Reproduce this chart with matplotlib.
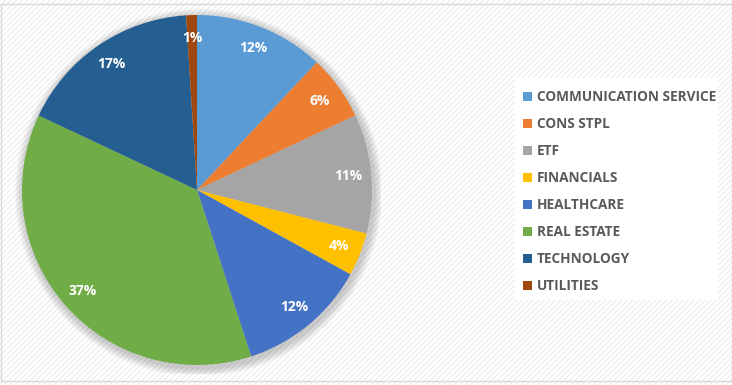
import matplotlib.pyplot as plt
from matplotlib.patches import Patch, Rectangle, Circle

sectors = ["COMMUNICATION SERVICE", "CONS STPL", "ETF", "FINANCIALS",
           "HEALTHCARE", "REAL ESTATE", "TECHNOLOGY", "UTILITIES"]
shares = [12, 6, 11, 4, 12, 37, 17, 1]
colors = ["#5B9BD5", "#ED7D31", "#A5A5A5", "#FFC000",
          "#4472C4", "#70AD47", "#255E91", "#9E480E"]

plt.rcParams["font.family"] = ["Open Sans", "DejaVu Sans"]

W, H = 732, 385
fig = plt.figure(figsize=(W / 100, H / 100), dpi=100)
fig.patch.set_facecolor("white")

# faint hatched background like the Excel chart area
bg = fig.add_axes([0, 0, 1, 1])
bg.set_xlim(0, W)
bg.set_ylim(0, H)
bg.axis("off")
bg.add_patch(Rectangle((0, 0), W, H, facecolor="white", edgecolor="#efefef",
                       hatch="//////", linewidth=0))
bg.add_patch(Rectangle((0.5, 4), W - 1, H - 8, facecolor="none",
                       edgecolor="#d9d9d9", linewidth=1))
# legend box
bg.add_patch(Rectangle((515, H - 300), 203, 222, facecolor="white",
                       edgecolor="none"))

cx, cy, R = 197, 190, 175
ax = fig.add_axes([(cx - R * 1.05) / W, (H - cy - R * 1.05) / H,
                   2.1 * R / W, 2.1 * R / H])

# soft shadow
for i in range(4):
    ax.add_patch(Circle((0.01, -0.015), 1.0 + 0.012 * (4 - i),
                        color="black", alpha=0.05, linewidth=0, zorder=0))

wedges, texts, autotexts = ax.pie(
    shares, colors=colors, startangle=90, counterclock=False,
    autopct="%d%%", pctdistance=0.87, radius=1.0,
    wedgeprops=dict(linewidth=0),
    textprops=dict(color="white", fontsize=10, fontweight="bold"))
for w in wedges:
    w.set_zorder(2)
for t in autotexts:
    t.set_zorder(3)
ax.set_xlim(-1.05, 1.05)
ax.set_ylim(-1.05, 1.05)
ax.set_aspect("equal")
ax.axis("off")

handles = [Patch(facecolor=c, edgecolor="none") for c in colors]
leg = fig.legend(handles, sectors, loc="upper left",
                 bbox_to_anchor=(518 / W, 1 - 85 / H), frameon=False,
                 handlelength=0.65, handleheight=0.65, handletextpad=0.35,
                 labelspacing=0.95, borderaxespad=0,
                 prop=dict(weight="bold", size=9.8))
for t in leg.get_texts():
    t.set_color("#595959")

fig.savefig("out.png", dpi=100)
